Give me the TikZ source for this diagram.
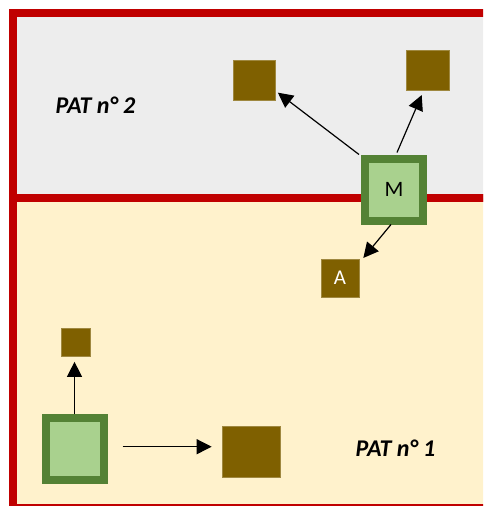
\documentclass[tikz,border=0pt]{standalone}
\usepackage{fontspec}
\setmainfont{Carlito}
\usetikzlibrary{arrows.meta}
\definecolor{frame}{HTML}{C00000}
\definecolor{grayzone}{HTML}{EDEDED}
\definecolor{yellowzone}{HTML}{FFF2CC}
\definecolor{brownbox}{HTML}{7F6000}
\definecolor{darkgreen}{HTML}{548235}
\definecolor{lightgreen}{HTML}{A9D18E}
\tikzset{
  zone/.style={draw=frame, line width=8pt},
  stock/.style={draw=brownbox!75!white, fill=brownbox, line width=0.7pt, inner sep=0pt},
  site/.style={draw=darkgreen, fill=lightgreen, line width=8pt, minimum width=58pt, minimum height=62pt, inner sep=0pt, font=\fontsize{22pt}{26pt}\selectfont},
  flow/.style={line width=1.2pt, -{Triangle[length=15pt,width=15pt]}},
  patlabel/.style={font=\fontsize{24pt}{28pt}\selectfont\bfseries\itshape}
}
\begin{document}
\begin{tikzpicture}[x=1pt,y=-1pt]
\useasboundingbox (0,0) rectangle (483,506);
\clip (0,0) rectangle (483,506);
\fill[white] (0,0) rectangle (483,506);
\draw[zone, fill=yellowzone] (13,198) rectangle (520,507.5);
\draw[zone, fill=grayzone] (13,12.5) rectangle (520,198);
\node[patlabel] (pat2) at (95.5,105) {PAT n° 2};
\node[patlabel] (pat1) at (395.5,448) {PAT n° 1};
\node[stock, minimum width=42pt, minimum height=40pt] (t1) at (254.5,80) {};
\node[stock, minimum width=43pt, minimum height=40pt] (t2) at (427.7,70) {};
\node[site] (m) at (394,189.5) {M};
\node[stock, minimum width=38pt, minimum height=38pt, text=white, font=\fontsize{21pt}{24pt}\selectfont] (a) at (340,278) {A};
\node[stock, minimum width=29pt, minimum height=28pt] (s) at (75.7,342.5) {};
\node[site] (g) at (74.5,449.3) {};
\node[stock, minimum width=58pt, minimum height=51pt] (b) at (251,452) {};
\coordinate (h1) at ([xshift=15pt,yshift=2.6pt]g.east);
\coordinate (h2) at ([xshift=-10pt,yshift=5.3pt]b.west);
\coordinate (v2) at ([yshift=-5pt]g.north |- s.south);
\draw[flow] (g.north) -- (v2);
\draw[flow] (h1) -- (h2);
\coordinate (m1) at ([xshift=-3pt]m.south);
\coordinate (a1) at ([xshift=4pt,yshift=0.7pt]a.north east);
\draw[flow] (m1) -- (a1);
\coordinate (m2) at ([xshift=-2pt]m.north west);
\coordinate (t1e) at ([xshift=2pt,yshift=7.7pt]t1.south east);
\draw[flow] (m2) -- (t1e);
\coordinate (m3) at ([xshift=3pt,yshift=2pt]m.north);
\coordinate (t2e) at ([xshift=-6pt,yshift=-4.7pt]t2.south);
\draw[flow] (m3) -- (t2e);
\end{tikzpicture}
\end{document}
